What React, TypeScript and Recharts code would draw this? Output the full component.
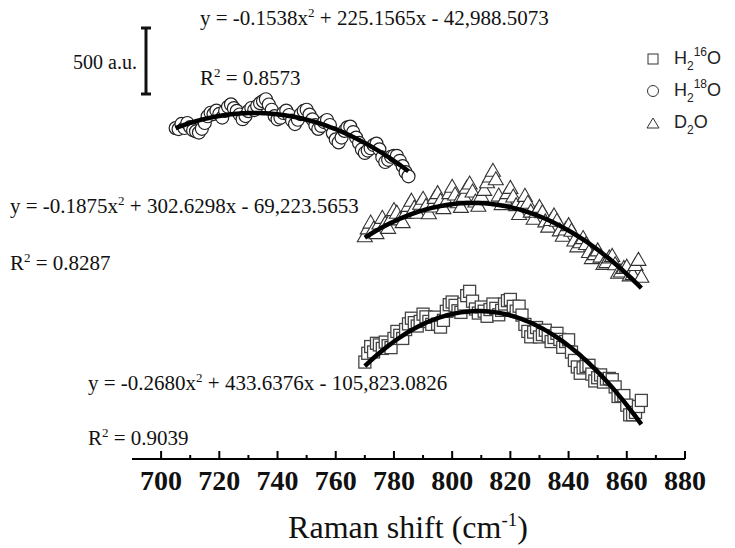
import { ScatterChart, Scatter, XAxis, YAxis } from "recharts";

const serif = '"Liberation Serif", "Times New Roman", serif';
const sans = '"Liberation Sans", Arial, sans-serif';

// x-axis ticks (every 10, labelled every 20)
const ramanTicks = [700, 710, 720, 730, 740, 750, 760, 770, 780, 790, 800, 810, 820, 830, 840, 850, 860, 870, 880];

// Raman shift positions
const h2o18Shift = [
  705, 706, 707, 708, 709, 710, 711, 712, 713, 714, 715, 716, 717, 718, 719, 720, 721, 722, 723, 724,
  725, 726, 727, 728, 729, 730, 731, 732, 733, 734, 735, 736, 737, 738, 739, 740, 741, 742, 743, 744,
  745, 746, 747, 748, 749, 750, 751, 752, 753, 754, 755, 756, 757, 758, 759, 760, 761, 762, 763, 764,
  765, 766, 767, 768, 769, 770, 771, 772, 773, 774, 775, 776, 777, 778, 779, 780, 781, 782, 783, 784, 785,
];
const longShift = [
  770, 771, 772, 773, 774, 775, 776, 777, 778, 779, 780, 781, 782, 783, 784, 785, 786, 787, 788, 789,
  790, 791, 792, 793, 794, 795, 796, 797, 798, 799, 800, 801, 802, 803, 804, 805, 806, 807, 808, 809,
  810, 811, 812, 813, 814, 815, 816, 817, 818, 819, 820, 821, 822, 823, 824, 825, 826, 827, 828, 829,
  830, 831, 832, 833, 834, 835, 836, 837, 838, 839, 840, 841, 842, 843, 844, 845, 846, 847, 848, 849,
  850, 851, 852, 853, 854, 855, 856, 857, 858, 859, 860, 861, 862, 863, 864, 865,
];

// intensities (a.u.)
const h2o18Intensity = [
  39304, 39297, 39335, 39305, 39342, 39312, 39289, 39280, 39271, 39299,
  39342, 39392, 39418, 39408, 39434, 39409, 39382, 39431, 39462, 39480,
  39452, 39432, 39405, 39370, 39393, 39430, 39453, 39438, 39468, 39489,
  39504, 39518, 39479, 39440, 39393, 39369, 39381, 39416, 39434, 39401,
  39360, 39334, 39366, 39407, 39431, 39440, 39404, 39369, 39326, 39298,
  39320, 39349, 39364, 39327, 39267, 39221, 39198, 39234, 39283, 39310,
  39315, 39275, 39234, 39194, 39146, 39120, 39138, 39155, 39179, 39189,
  39147, 39088, 39053, 39069, 39092, 39099, 39099, 39062, 39023, 38978,
  38947,
];
const d2oIntensity = [
  52647, 52705, 52748, 52702, 52670, 52741, 52783, 52742, 52709, 52779,
  52841, 52821, 52772, 52751, 52820, 52872, 52910, 52858, 52821, 52887,
  52924, 52871, 52817, 52867, 52931, 52966, 52910, 52855, 52904, 52966,
  53013, 52956, 52899, 52864, 52946, 53006, 53037, 52978, 52904, 52873,
  52946, 52990, 53047, 53089, 53132, 53069, 52948, 52885, 52925, 52966,
  53005, 52941, 52877, 52811, 52879, 52946, 52895, 52829, 52776, 52828,
  52864, 52825, 52757, 52718, 52767, 52801, 52761, 52690, 52650, 52697,
  52729, 52687, 52615, 52572, 52602, 52633, 52589, 52530, 52485, 52514,
  52542, 52496, 52442, 52455, 52490, 52501, 52439, 52376, 52386, 52412,
  52421, 52357, 52366, 52434, 52472, 52347,
];
const h2o16Intensity = [
  69211, 69276, 69326, 69286, 69350, 69338, 69312, 69359, 69332, 69318,
  69386, 69438, 69409, 69386, 69452, 69494, 69536, 69503, 69478, 69512,
  69566, 69546, 69512, 69490, 69544, 69492, 69470, 69520, 69587, 69636,
  69656, 69631, 69591, 69579, 69641, 69703, 69735, 69662, 69604, 69574,
  69619, 69588, 69550, 69600, 69641, 69609, 69561, 69594, 69641, 69666,
  69675, 69624, 69588, 69625, 69559, 69490, 69438, 69398, 69433, 69467,
  69397, 69415, 69447, 69405, 69363, 69393, 69424, 69379, 69320, 69363,
  69376, 69285, 69223, 69175, 69128, 69168, 69178, 69187, 69122, 69071,
  69095, 69116, 69063, 69085, 69090, 69081, 69027, 68956, 68961, 68963,
  68892, 68820, 68821, 68838, 68882, 68927,
];

// quadratic fit coefficients [a, b, c] as printed on the chart
const h2o18Fit = [-0.1538, 225.1565, -42988.5073];
const d2oFit = [-0.1875, 302.6298, -69223.5653];
const h2o16Fit = [-0.268, 433.6376, -105823.0826];

// vertical stacking offsets of each trace (a.u.)
const h2o18Offset = -36853;
const d2oOffset = -50993;
const h2o16Offset = -68493;

const toPoints = (xs: number[], ys: number[], off: number) => xs.map((x, i) => ({ x, y: ys[i] + off }));
const fitPoints = (xs: number[], c: number[], off: number) =>
  xs.map((x) => ({ x, y: c[0] * x * x + c[1] * x + c[2] + off }));

const SquareMark = (p: any) => (
  <rect x={p.cx - 6} y={p.cy - 6} width={12} height={12} fill="#fff" stroke="#444" strokeWidth={1.3} />
);
const CircleMark = (p: any) => <circle cx={p.cx} cy={p.cy} r={6.5} fill="#fff" stroke="#222" strokeWidth={1.2} />;
const TriangleMark = (p: any) => (
  <polygon
    points={`${p.cx},${p.cy - 7} ${p.cx + 7.5},${p.cy + 6} ${p.cx - 7.5},${p.cy + 6}`}
    fill="#fff"
    stroke="#333"
    strokeWidth={1.1}
  />
);
const NoMark = () => <g />;

const AxisTick = (props: any) => {
  const { x, y, payload } = props;
  const major = payload.value % 20 === 0;
  return (
    <g>
      <line x1={x} x2={x} y1={y} y2={y - (major ? 8 : 4)} stroke="#000" strokeWidth={2} />
      {major && (
        <text x={x} y={y + 31} textAnchor="middle" fontFamily={serif} fontWeight="bold" fontSize={28} fill="#111">
          {payload.value}
        </text>
      )}
    </g>
  );
};

const Sub = ({ children }: any) => (
  <span style={{ fontSize: 12, position: "relative", top: 6 }}>{children}</span>
);
const Sup = ({ children }: any) => (
  <span style={{ fontSize: 12, position: "relative", top: -8 }}>{children}</span>
);

const LegendBox = () => {
  const rows = [
    {
      mark: <rect x={3} y={3} width={10} height={10} fill="#fff" stroke="#333" strokeWidth={1} />,
      label: (
        <>
          H<Sub>2</Sub>
          <Sup>16</Sup>O
        </>
      ),
    },
    {
      mark: <circle cx={8} cy={8} r={5.5} fill="#fff" stroke="#333" strokeWidth={1} />,
      label: (
        <>
          H<Sub>2</Sub>
          <Sup>18</Sup>O
        </>
      ),
    },
    {
      mark: <polygon points="8,3 14,13 2,13" fill="#fff" stroke="#333" strokeWidth={1} />,
      label: (
        <>
          D<Sub>2</Sub>O
        </>
      ),
    },
  ];
  return (
    <div style={{ position: "absolute", left: 645, top: 43, fontFamily: sans, fontSize: 18, color: "#222" }}>
      {rows.map((r, i) => (
        <div key={i} style={{ display: "flex", alignItems: "center", height: 32, lineHeight: "18px" }}>
          <svg width={16} height={16} style={{ marginRight: 13 }}>
            {r.mark}
          </svg>
          <span>{r.label}</span>
        </div>
      ))}
    </div>
  );
};

const Eq = ({ x, y, pre, post }: any) => (
  <text x={x} y={y} fontFamily={serif} fontSize={21} fill="#111">
    {pre}
    <tspan dy={-8} fontSize={13}>
      2
    </tspan>
    <tspan dy={8}>{post}</tspan>
  </text>
);

export default function App() {
  return (
    <div style={{ position: "absolute", left: 0, top: 0, width: 735, height: 548, background: "#fff" }}>
      <ScatterChart width={735} height={548} margin={{ top: 0, right: 50, bottom: 0, left: 132 }}>
        <XAxis
          type="number"
          dataKey="x"
          domain={[690, 880]}
          ticks={ramanTicks}
          interval={0}
          height={89}
          tickSize={0}
          tickMargin={0}
          tickLine={false}
          axisLine={{ stroke: "#000", strokeWidth: 2 }}
          tick={<AxisTick />}
          allowDataOverflow
        />
        <YAxis type="number" dataKey="y" domain={[0, 3400]} hide width={0} allowDataOverflow />
        <Scatter
          name="H2 18O"
          data={toPoints(h2o18Shift, h2o18Intensity, h2o18Offset)}
          shape={<CircleMark />}
          isAnimationActive={false}
        />
        <Scatter
          name="D2O"
          data={toPoints(longShift, d2oIntensity, d2oOffset)}
          shape={<TriangleMark />}
          isAnimationActive={false}
        />
        <Scatter
          name="H2 16O"
          data={toPoints(longShift, h2o16Intensity, h2o16Offset)}
          shape={<SquareMark />}
          isAnimationActive={false}
        />
        <Scatter
          data={fitPoints(h2o18Shift, h2o18Fit, h2o18Offset)}
          line={{ stroke: "#000", strokeWidth: 4.5 }}
          lineType="joint"
          shape={<NoMark />}
          legendType="none"
          isAnimationActive={false}
        />
        <Scatter
          data={fitPoints(longShift, d2oFit, d2oOffset)}
          line={{ stroke: "#000", strokeWidth: 4.5 }}
          lineType="joint"
          shape={<NoMark />}
          legendType="none"
          isAnimationActive={false}
        />
        <Scatter
          data={fitPoints(longShift, h2o16Fit, h2o16Offset)}
          line={{ stroke: "#000", strokeWidth: 4.5 }}
          lineType="joint"
          shape={<NoMark />}
          legendType="none"
          isAnimationActive={false}
        />
      </ScatterChart>
      <LegendBox />
      <svg width={735} height={548} style={{ position: "absolute", left: 0, top: 0, pointerEvents: "none" }}>
        {/* scale bar */}
        <g stroke="#111" strokeWidth={3}>
          <line x1={146} x2={146} y1={28} y2={94} />
          <line x1={141} x2={151} y1={28} y2={28} />
          <line x1={141} x2={151} y1={94} y2={94} />
        </g>
        <text x={137} y={69} textAnchor="end" fontFamily={serif} fontSize={20} fill="#111">
          500 a.u.
        </text>
        <Eq x={200} y={25} pre="y = -0.1538x" post=" + 225.1565x - 42,988.5073" />
        <Eq x={200} y={85} pre="R" post=" = 0.8573" />
        <Eq x={10} y={213} pre="y = -0.1875x" post=" + 302.6298x - 69,223.5653" />
        <Eq x={10} y={270} pre="R" post=" = 0.8287" />
        <Eq x={88} y={390} pre="y = -0.2680x" post=" + 433.6376x - 105,823.0826" />
        <Eq x={88} y={445} pre="R" post=" = 0.9039" />
        <text x={408} y={538} textAnchor="middle" fontFamily={serif} fontSize={32} fill="#111">
          Raman shift (cm
          <tspan dy={-12} fontSize={19}>
            -1
          </tspan>
          <tspan dy={12}>)</tspan>
        </text>
      </svg>
    </div>
  );
}
